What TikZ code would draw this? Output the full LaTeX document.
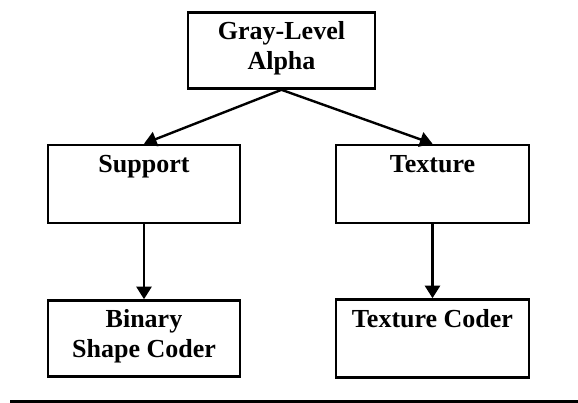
\documentclass[tikz,border=0pt]{standalone}
\usepackage{fontspec}
\setmainfont{Liberation Serif}
\usetikzlibrary{arrows.meta}
\tikzset{
  block/.style={
    draw=black,
    line width=2.6pt,
    align=center,
    inner sep=0pt,
    font=\bfseries\fontsize{26}{30}\selectfont
  },
  onerow/.style={block, text height=28pt, text depth=50pt},
  tworow/.style={block, text height=57pt, text depth=19pt},
  link/.style={-{Triangle[length=12.5pt,width=15pt]}, line width=2.4pt}
}

\begin{document}
\begin{tikzpicture}[x=1pt,y=-1pt]
\useasboundingbox (0,0) rectangle (578,403);

\node[tworow, minimum width=187pt] (alpha) at (281.5,50.5) {Gray-Level\\Alpha};
\node[onerow, minimum width=192pt] (support) at (144,184) {Support};
\node[onerow, minimum width=193pt] (texture) at (432.5,184) {Texture};
\node[tworow, minimum width=192pt] (binary) at (144,338.5) {Binary\\Shape Coder};
\node[onerow, minimum width=193pt] (texcoder) at (432.5,338.5) {Texture Coder};

\draw[link] (alpha.south) -- (support.north);
\draw[link] (alpha.south) -- (texture.north);
\draw[link] (support) -- (binary);
\draw[link] (texture) -- (texcoder);

% rule under the figure
\draw[line width=3.5pt] (10,401.5) -- (578,401.5);

\end{tikzpicture}
\end{document}
